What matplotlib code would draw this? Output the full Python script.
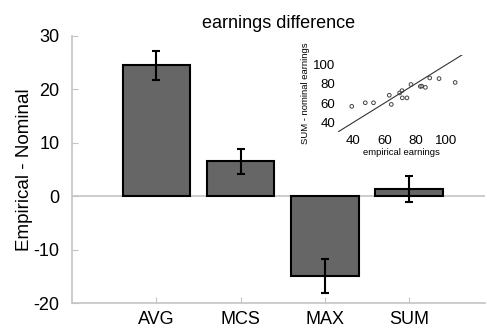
import matplotlib.pyplot as plt
import numpy as np

plt.rcParams['font.family'] = ['Liberation Sans', 'DejaVu Sans']
plt.rcParams['axes.unicode_minus'] = False

# mean difference per aggregation rule, with error bars
labels = ['AVG', 'MCS', 'MAX', 'SUM']
diff = [24.5, 6.5, -15.0, 1.4]
err = [2.7, 2.4, 3.2, 2.45]

# inset scatter: empirical vs SUM-nominal earnings
emp = [38.9, 47.6, 52.9, 63.1, 64.4, 69.8, 71.3, 71.5, 74.5, 77.1, 83.1, 84.0, 86.4, 89.2, 95.2, 105.6]
sum_nom = [56.6, 60.3, 60.3, 68.1, 58.6, 70.5, 72.9, 65.4, 65.4, 79.3, 77.3, 77.6, 76.3, 86.1, 85.4, 81.4]

grey = '#c4c4c4'

fig = plt.figure(figsize=(4.87, 3.29), dpi=100)
ax = fig.add_axes([0.148, 0.079, 0.848, 0.8116])

x = np.arange(1, len(labels) + 1)
ax.axhline(0, color=grey, lw=1.2, zorder=0)
ax.bar(x, diff, width=0.8, color='#666666', edgecolor='black', linewidth=1.5, zorder=2)
ax.errorbar(x, diff, yerr=err, fmt='none', ecolor='black', elinewidth=1.5,
            capsize=3, capthick=1.5, zorder=3)

ax.set_xlim(0, 4.9)
ax.set_ylim(-20, 30)
ax.set_xticks(x)
ax.set_xticklabels(labels, fontsize=13)
ax.set_yticks([-20, -10, 0, 10, 20, 30])
ax.tick_params(axis='y', labelsize=13, direction='in', length=4, color=grey, pad=9)
ax.tick_params(axis='x', direction='in', length=4, color=grey, pad=6)
for s in ['top', 'right']:
    ax.spines[s].set_visible(False)
for s in ['left', 'bottom']:
    ax.spines[s].set_color(grey)
    ax.spines[s].set_linewidth(1.2)
ax.set_ylabel('Empirical - Nominal', fontsize=13.5)
ax.yaxis.set_label_coords(-0.095, 0.5)
ax.set_title('earnings difference', fontsize=13, pad=6)

# inset
ins = fig.add_axes([0.694, 0.599, 0.261, 0.234])
ins.plot([30, 112], [30, 112], color='#333333', lw=0.8)
ins.scatter(emp, sum_nom, s=7, facecolors='none', edgecolors='#444444', linewidths=0.7)
ins.set_xlim(30, 112)
ins.set_ylim(30, 110)
ins.set_xticks([40, 60, 80, 100])
ins.set_yticks([40, 60, 80, 100])
ins.tick_params(labelsize=9.5, length=0, pad=2)
for s in ins.spines.values():
    s.set_visible(False)
ins.patch.set_alpha(0)
ins.set_xlabel('empirical earnings', fontsize=6.8, labelpad=1)
ins.set_ylabel('SUM - nominal earnings', fontsize=6.8, labelpad=2)

fig.savefig('out.png', dpi=100)
